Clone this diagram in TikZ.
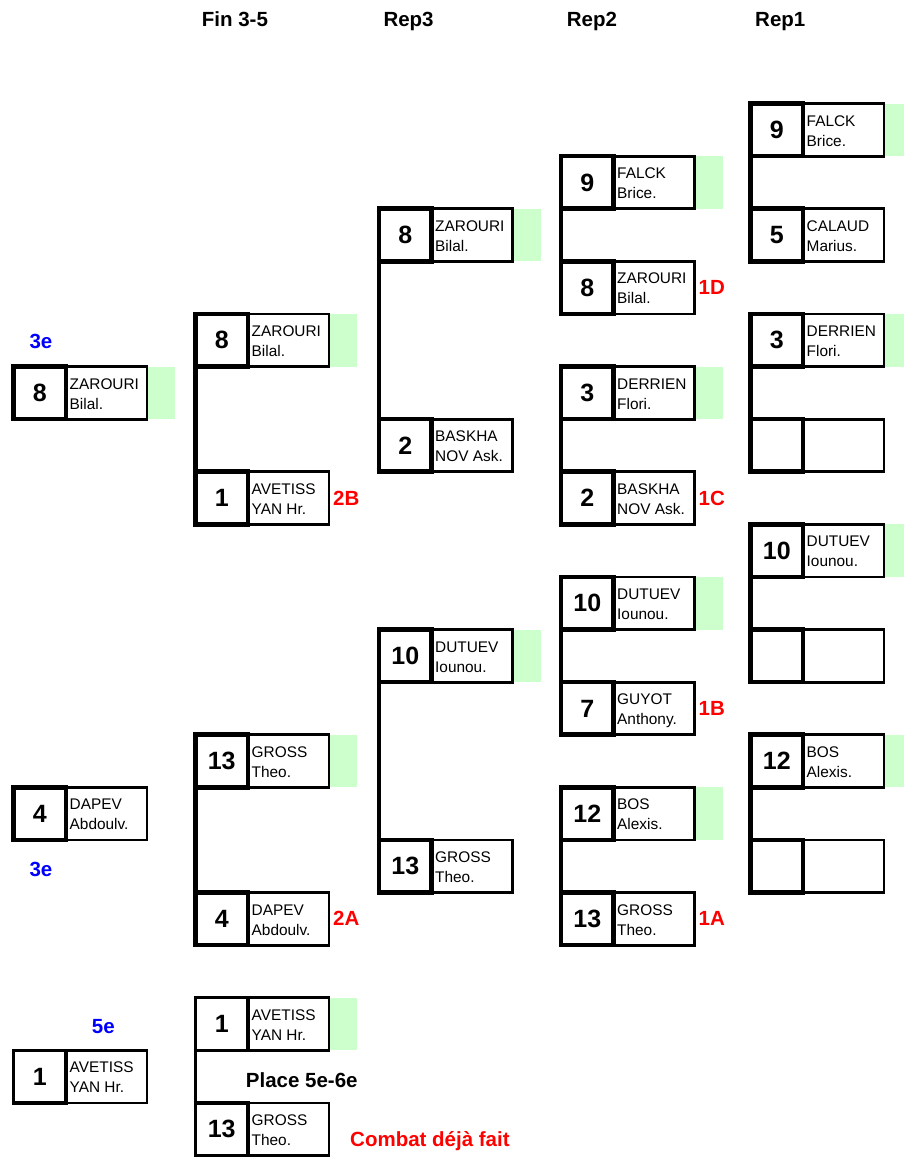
\documentclass[tikz,border=0pt]{standalone}
\usepackage{fontspec}
\setmainfont{Liberation Sans}
\definecolor{lightgreen}{RGB}{204,255,204}
\definecolor{lblred}{RGB}{255,0,0}
\definecolor{lblblue}{RGB}{0,0,255}
\tikzset{
  numbox/.style={draw, line width=4.5pt, minimum width=52.5pt, minimum height=52.6pt,
    inner sep=0pt, outer sep=0pt, anchor=north west,
    font=\fontsize{25}{25}\selectfont\bfseries},
  numboxthin/.style={numbox, line width=3.3pt},
  namebox/.style={draw, line width=2.8pt, minimum width=81pt, minimum height=52.6pt,
    inner sep=0pt, outer sep=0pt, anchor=north west},
  nametxt/.style={font=\fontsize{15.4}{18}\selectfont, inner sep=0pt, anchor=base west},
  conn/.style={line width=4.5pt},
  connthin/.style={line width=3.3pt},
  lbl/.style={font=\fontsize{20.5}{24}\selectfont\bfseries, inner sep=0pt},
  redlbl/.style={lbl, text=lblred, anchor=west},
  bluelbl/.style={lbl, text=lblblue},
  greenfill/.style={fill=lightgreen},
}
% #1 id, #2 X, #3 row, #4 number, #5 line 1, #6 line 2, #7 green (1/0), #8 number box style
\newcommand\ent[8]{%
  \pgfmathsetmacro\ry{103.5+52.6*#3}%
  \ifnum#7=1 \fill[greenfill] (#2+133.5,\ry) rectangle (#2+161.5,\ry+52.6);\fi
  \node[namebox] (#1b) at (#2+52.5,\ry) {};
  \node[#8] (#1n) at (#2,\ry) {#4};
  \node[nametxt] (#1a) at ([xshift=3.5pt,yshift=-22.5pt]#1b.north west) {#5};
  \node[nametxt] (#1c) at ([xshift=3.5pt,yshift=-42.5pt]#1b.north west) {#6};
}
\newcommand\redtag[4]{% id, X, row, text
  \node[redlbl] (#1) at (#2+137.5,{103.5+52.6*#3+26.3}) {#4};
}
\begin{document}
\begin{tikzpicture}[x=1pt,y=-1pt]
\useasboundingbox (0,0) rectangle (904,1157);
\clip (0,0) rectangle (904,1157);

% headers
\node[lbl, anchor=base west] (hFin) at (201.7,26) {Fin 3-5};
\node[lbl, anchor=base west] (hRep3) at (383.3,26) {Rep3};
\node[lbl, anchor=base west] (hRep2) at (566.7,26) {Rep2};
\node[lbl, anchor=base west] (hRep1) at (755,26) {Rep1};

% column A
\ent{A5}{13.5}{5}{8}{ZAROURI}{Bilal.}{1}{numbox}
\ent{A13}{13.5}{13}{4}{DAPEV}{Abdoulv.}{0}{numbox}
\ent{A18}{13.5}{18}{1}{AVETISS}{YAN Hr.}{0}{numboxthin}
\node[bluelbl] (t3a) at (41,341.5) {3e};
\node[bluelbl] (t3b) at (41,869.5) {3e};
\node[bluelbl] (t5) at (103.3,1026.7) {5e};

% column B (Fin 3-5)
\ent{B4}{195.5}{4}{8}{ZAROURI}{Bilal.}{1}{numbox}
\ent{B7}{195.5}{7}{1}{AVETISS}{YAN Hr.}{0}{numbox}
\ent{B12}{195.5}{12}{13}{GROSS}{Theo.}{1}{numbox}
\ent{B15}{195.5}{15}{4}{DAPEV}{Abdoulv.}{0}{numbox}
\ent{B17}{195.5}{17}{1}{AVETISS}{YAN Hr.}{1}{numboxthin}
\ent{B19}{195.5}{19}{13}{GROSS}{Theo.}{0}{numboxthin}
\draw[conn] (B4n.north west) -- (B7n.south west);
\draw[conn] (B12n.north west) -- (B15n.south west);
\draw[connthin] (B17n.north west) -- (B19n.south west);
\redtag{l2B}{195.5}{7}{2B}
\redtag{l2A}{195.5}{15}{2A}
\node[lbl, anchor=west] (place) at (245.7,1080) {Place 5e-6e};
\node[lbl, text=lblred, anchor=base west] (deja) at (350,1146.4) {Combat déjà fait};

% column C (Rep3)
\ent{C2}{379}{2}{8}{ZAROURI}{Bilal.}{1}{numbox}
\ent{C6}{379}{6}{2}{BASKHA}{NOV Ask.}{0}{numbox}
\ent{C10}{379}{10}{10}{DUTUEV}{Iounou.}{1}{numbox}
\ent{C14}{379}{14}{13}{GROSS}{Theo.}{0}{numbox}
\draw[conn] (C2n.north west) -- (C6n.south west);
\draw[conn] (C10n.north west) -- (C14n.south west);

% column D (Rep2)
\ent{D1}{561}{1}{9}{FALCK}{Brice.}{1}{numbox}
\ent{D3}{561}{3}{8}{ZAROURI}{Bilal.}{0}{numbox}
\ent{D5}{561}{5}{3}{DERRIEN}{Flori.}{1}{numbox}
\ent{D7}{561}{7}{2}{BASKHA}{NOV Ask.}{0}{numbox}
\ent{D9}{561}{9}{10}{DUTUEV}{Iounou.}{1}{numbox}
\ent{D11}{561}{11}{7}{GUYOT}{Anthony.}{0}{numbox}
\ent{D13}{561}{13}{12}{BOS}{Alexis.}{1}{numbox}
\ent{D15}{561}{15}{13}{GROSS}{Theo.}{0}{numbox}
\draw[conn] (D1n.north west) -- (D3n.south west);
\draw[conn] (D5n.north west) -- (D7n.south west);
\draw[conn] (D9n.north west) -- (D11n.south west);
\draw[conn] (D13n.north west) -- (D15n.south west);
\redtag{l1D}{561}{3}{1D}
\redtag{l1C}{561}{7}{1C}
\redtag{l1B}{561}{11}{1B}
\redtag{l1A}{561}{15}{1A}

% column E (Rep1)
\ent{E0}{750.5}{0}{9}{FALCK}{Brice.}{1}{numbox}
\ent{E2}{750.5}{2}{5}{CALAUD}{Marius.}{0}{numbox}
\ent{E4}{750.5}{4}{3}{DERRIEN}{Flori.}{1}{numbox}
\ent{E6}{750.5}{6}{}{}{}{0}{numbox}
\ent{E8}{750.5}{8}{10}{DUTUEV}{Iounou.}{1}{numbox}
\ent{E10}{750.5}{10}{}{}{}{0}{numbox}
\ent{E12}{750.5}{12}{12}{BOS}{Alexis.}{1}{numbox}
\ent{E14}{750.5}{14}{}{}{}{0}{numbox}
\draw[conn] (E0n.north west) -- (E2n.south west);
\draw[conn] (E4n.north west) -- (E6n.south west);
\draw[conn] (E8n.north west) -- (E10n.south west);
\draw[conn] (E12n.north west) -- (E14n.south west);
\end{tikzpicture}
\end{document}
